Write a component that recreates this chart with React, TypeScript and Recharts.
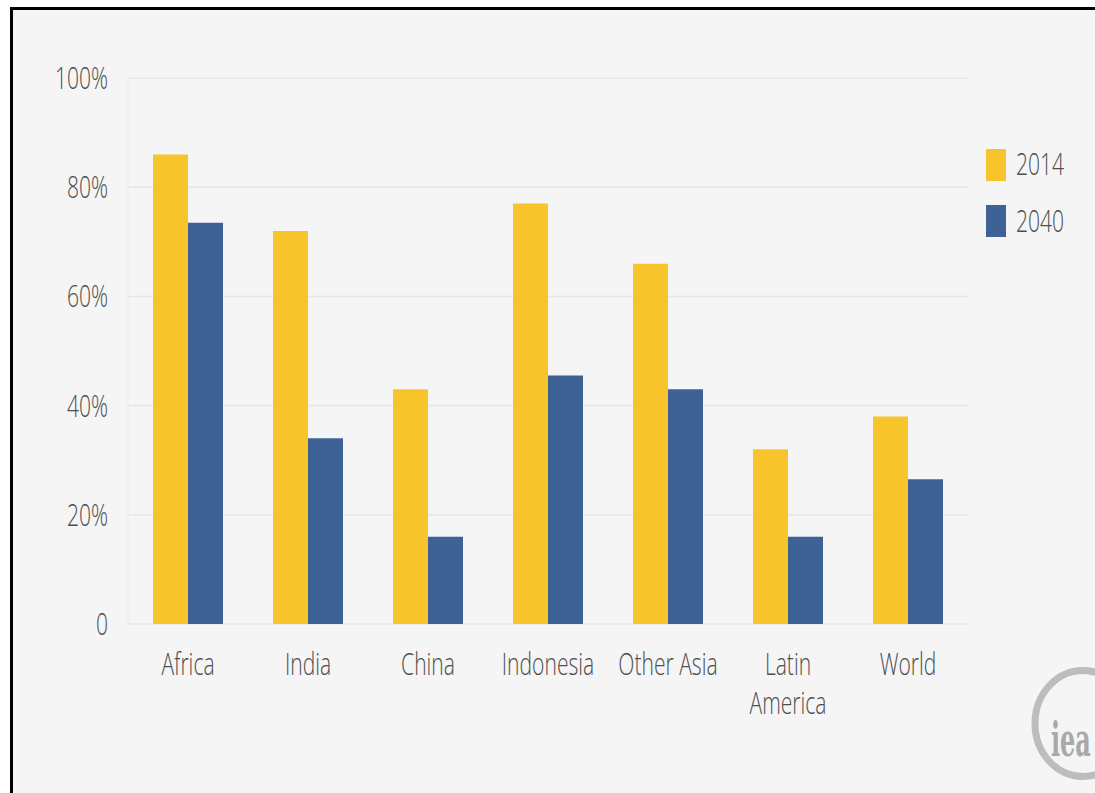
import React from 'react';
import { BarChart, Bar, XAxis, YAxis, CartesianGrid, Legend } from 'recharts';

// Share of population relying on traditional biomass for cooking
const REGIONS = ['Africa', 'India', 'China', 'Indonesia', 'Other Asia', 'Latin America', 'World'];
const SHARE_2014 = [86, 72, 43, 77, 66, 32, 38];
const SHARE_2040 = [73.5, 34, 16, 45.5, 43, 16, 26.5];
const Y_TICKS = [0, 20, 40, 60, 80, 100];
const SERIES = [
  { key: 'y2014', name: '2014', color: '#F8C42C' },
  { key: 'y2040', name: '2040', color: '#3F6296' },
];
// labels that break onto two lines under the axis
const WRAPPED: Record<string, string[]> = { 'Latin America': ['Latin', 'America'] };

const data = REGIONS.map((region, i) => ({
  region,
  y2014: SHARE_2014[i],
  y2040: SHARE_2040[i],
}));

const W = 1095;
const H = 793;
const TEXT = '#4d4d4d';
const FONT = '"Open Sans", sans-serif';
const SQUEEZE = 0.68; // narrow lettering

const YTick = (props: any) => {
  const { x, y, payload } = props;
  const label = payload.value === 0 ? '0' : `${payload.value}%`;
  return (
    <g transform={`translate(${x},${y + 11}) scale(${SQUEEZE},1)`}>
      <text x={0} y={0} textAnchor="end" fill={TEXT} fontSize={31} fontWeight={300} fontFamily={FONT}>
        {label}
      </text>
    </g>
  );
};

const XTick = (props: any) => {
  const { x, y, payload } = props;
  const lines = WRAPPED[payload.value] ?? [payload.value];
  return (
    <g transform={`translate(${x},${y + 51}) scale(${SQUEEZE},1)`}>
      <text x={0} y={0} textAnchor="middle" fill={TEXT} fontSize={31} fontWeight={300} fontFamily={FONT}>
        {lines.map((line, i) => (
          <tspan key={line} x={0} dy={i === 0 ? 0 : 39}>
            {line}
          </tspan>
        ))}
      </text>
    </g>
  );
};

const LegendBox = () => (
  <svg width={110} height={110} style={{ display: 'block' }}>
    {SERIES.map((s, i) => (
      <g key={s.key}>
        <rect x={11} y={9 + i * 56} width={20} height={32} fill={s.color} />
        <g transform={`translate(41,${35 + i * 57}) scale(${SQUEEZE},1)`}>
          <text x={0} y={0} fill={TEXT} fontSize={31} fontWeight={300} fontFamily={FONT}>
            {s.name}
          </text>
        </g>
      </g>
    ))}
  </svg>
);

export default function App() {
  return (
    <div style={{ position: 'absolute', left: 0, top: 0, width: W, height: H, background: '#fff', overflow: 'hidden' }}>
      <div
        style={{
          position: 'absolute',
          left: 10,
          top: 7,
          right: 0,
          bottom: 0,
          background: '#f5f5f5',
          borderTop: '3px solid #000',
          borderLeft: '3px solid #000',
        }}
      />
      <div style={{ position: 'absolute', left: 0, top: 0 }}>
        <BarChart
          width={W}
          height={H}
          data={data}
          margin={{ top: 78, right: 17, bottom: 0, left: 0 }}
          barGap={0}
          barSize={35}
        >
          <CartesianGrid vertical={false} stroke="#e6e6e6" strokeWidth={1.5} />
          <XAxis
            dataKey="region"
            height={169}
            axisLine={false}
            tickLine={false}
            tickSize={0}
            tickMargin={0}
            interval={0}
            tick={<XTick />}
          />
          <YAxis
            width={128}
            domain={[0, 100]}
            ticks={Y_TICKS}
            axisLine={{ stroke: '#ebebeb' }}
            tickLine={false}
            tickSize={0}
            tickMargin={20}
            tick={<YTick />}
          />
          <Legend
            layout="vertical"
            align="right"
            verticalAlign="top"
            content={<LegendBox />}
            wrapperStyle={{ left: 975, top: 140, width: 110, height: 110 }}
          />
          {SERIES.map((s) => (
            <Bar key={s.key} dataKey={s.key} name={s.name} fill={s.color} isAnimationActive={false} />
          ))}
        </BarChart>
      </div>
      {/* agency mark, bottom right */}
      <svg width={W} height={H} style={{ position: 'absolute', left: 0, top: 0, pointerEvents: 'none' }}>
        <ellipse cx={1083} cy={723.5} rx={48} ry={53} fill="none" stroke="#bdbdbd" strokeWidth={7} />
        <g transform={`translate(1051,756) scale(0.52,1)`}>
          <text x={0} y={0} fill="#a9a9a9" fontSize={46} fontWeight="bold" fontFamily='"DejaVu Serif", serif'>
            iea
          </text>
        </g>
      </svg>
    </div>
  );
}
